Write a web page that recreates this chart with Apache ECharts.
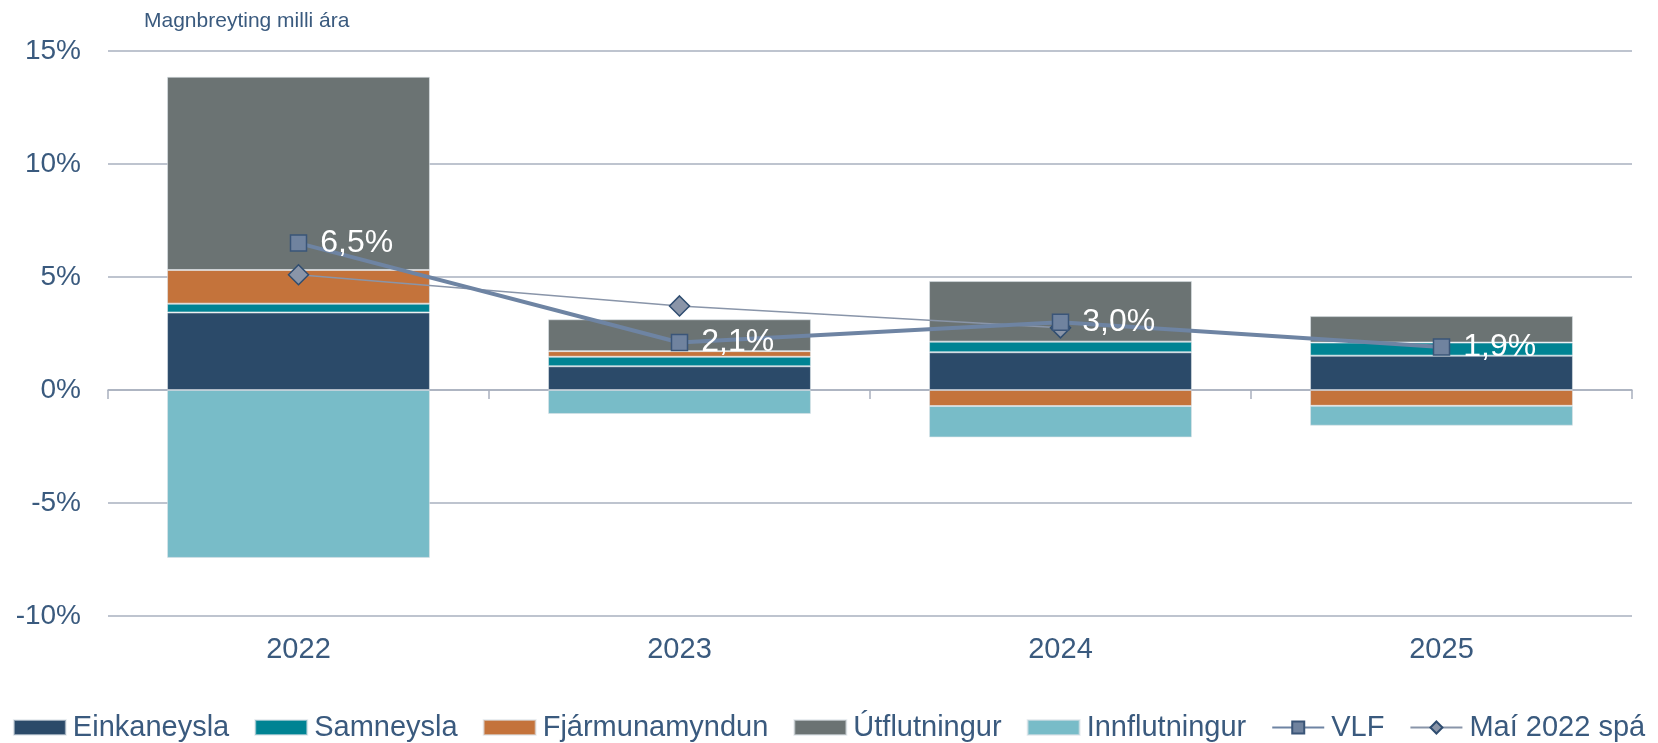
<!DOCTYPE html>
<html>
<head>
<meta charset="utf-8">
<title>Magnbreyting milli ára</title>
<script src="https://cdn.jsdelivr.net/npm/echarts@6/dist/echarts.min.js"></script>
<style>
  html, body { margin: 0; padding: 0; background: #fff; }
  #chart { width: 1658px; height: 743px; }
</style>
</head>
<body>
<div id="chart"></div>
<script>
// gögn lesin af myndinni (%)
var years = ['2022', '2023', '2024', '2025'];
var einkaneysla = [3.43, 1.05, 1.67, 1.52];
var samneysla = [0.39, 0.42, 0.47, 0.58];
var fjarmunamyndun = [1.49, 0.25, -0.71, -0.70];
var utflutningur = [8.55, 1.41, 2.68, 1.17];
var innflutningur = [-7.43, -1.06, -1.39, -0.88];
var vlf = [6.5, 2.1, 3.0, 1.9];
var maiSpa = [5.1, 3.72, 2.75, null];

var textColor = '#3a5a7e';
var font = 'Arial, "Liberation Sans", sans-serif';

function bar(name, data, color) {
    return {
        name: name,
        type: 'bar',
        stack: 'total',
        xAxisIndex: 0,
        barWidth: '69%',
        data: data,
        itemStyle: { color: color, borderColor: 'rgba(220,226,232,0.6)', borderWidth: 1 }
    };
}

var myChart = echarts.init(document.getElementById('chart'));

var option = {
    animation: false,
    textStyle: { fontFamily: font },
    title: {
        text: 'Magnbreyting milli ára',
        left: 139,
        top: 6,
        textStyle: { color: textColor, fontSize: 21, fontWeight: 'normal', fontFamily: font }
    },
    grid: { left: 108, right: 26, top: 51, bottom: 127 },
    legend: {
        bottom: 1,
        left: 'center',
        padding: 0,
        itemWidth: 52,
        itemHeight: 15,
        itemGap: 25,
        textStyle: { color: textColor, fontSize: 29, fontFamily: font, padding: [0, 0, 0, 2] },
        data: [
            { name: 'Einkaneysla', icon: 'rect' },
            { name: 'Samneysla', icon: 'rect' },
            { name: 'Fjármunamyndun', icon: 'rect' },
            { name: 'Útflutningur', icon: 'rect' },
            { name: 'Innflutningur', icon: 'rect' },
            'VLF',
            'Maí 2022 spá'
        ]
    },
    xAxis: [{
        type: 'category',
        data: years,
        position: 'bottom',
        axisLine: { show: false, onZero: false },
        axisTick: { show: false },
        axisLabel: { color: textColor, fontSize: 29, margin: 19, fontFamily: font }
    }, {
        type: 'category',
        data: years,
        position: 'top',
        axisLine: { show: true, onZero: true, lineStyle: { color: '#a9b0bf', width: 1.5 } },
        axisTick: { show: true, inside: true, length: 9, lineStyle: { color: '#a9b0bf', width: 1.5 } },
        axisLabel: { show: false }
    }],
    yAxis: {
        type: 'value',
        min: -10,
        max: 15,
        interval: 5,
        axisLine: { show: false },
        axisTick: { show: false },
        axisLabel: { color: textColor, fontSize: 28, margin: 27, fontFamily: font, formatter: '{value}%' },
        splitLine: { lineStyle: { color: '#a9b0bf', width: 1.5 } }
    },
    series: [
        bar('Einkaneysla', einkaneysla, '#2b4a69'),
        bar('Samneysla', samneysla, '#008393'),
        bar('Fjármunamyndun', fjarmunamyndun, '#c4733b'),
        bar('Útflutningur', utflutningur, '#6b7373'),
        bar('Innflutningur', innflutningur, '#78bcc8'),
        {
            name: 'Maí 2022 spá',
            type: 'line',
            xAxisIndex: 0,
            data: maiSpa,
            z: 4,
            symbol: 'diamond',
            symbolSize: 20,
            lineStyle: { color: '#8995a9', width: 1.5 },
            itemStyle: { color: '#8a95a8', borderColor: '#2f4d70', borderWidth: 1.5 }
        },
        {
            name: 'VLF',
            type: 'line',
            xAxisIndex: 0,
            data: vlf,
            z: 5,
            symbol: 'rect',
            symbolSize: 16,
            lineStyle: { color: '#6e84a3', width: 4 },
            itemStyle: { color: '#70839f', borderColor: '#3a5578', borderWidth: 1.5 },
            label: {
                show: true,
                position: 'right',
                distance: 13,
                color: '#ffffff',
                fontSize: 32,
                fontFamily: font,
                formatter: function (p) {
                    return p.value.toFixed(1).replace('.', ',') + '%';
                }
            }
        }
    ]
};

myChart.setOption(option);
</script>
</body>
</html>
